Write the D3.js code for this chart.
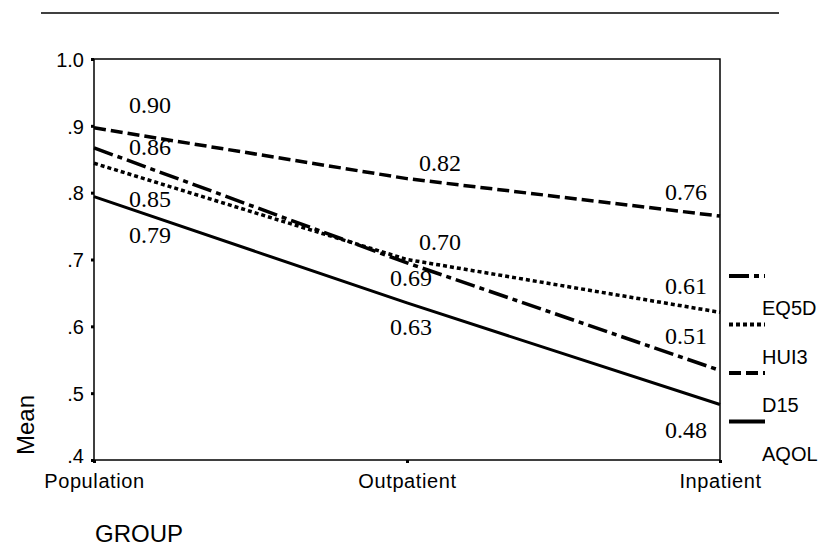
<!DOCTYPE html>
<html>
<head>
<meta charset="utf-8">
<script src="https://cdn.jsdelivr.net/npm/d3@7"></script>
<style>
  body { margin: 0; background: #fff; }
  text { fill: #000; }
</style>
</head>
<body>
<div id="chart"></div>
<script>
// categories and series means
const groups = ["Population", "Outpatient", "Inpatient"];
const seriesNames = ["EQ5D", "HUI3", "D15", "AQOL"];
const eq5d = [0.867, 0.695, 0.534];
const hui3 = [0.844, 0.700, 0.621];
const d15 = [0.897, 0.821, 0.765];
const aqol = [0.794, 0.635, 0.483];
const yTicks = [0.4, 0.5, 0.6, 0.7, 0.8, 0.9, 1.0];

// value labels typed on the chart (in group order)
const eq5dLabels = ["0.86", "0.69", "0.51"];
const hui3Labels = ["0.85", "0.70", "0.61"];
const d15Labels = ["0.90", "0.82", "0.76"];
const aqolLabels = ["0.79", "0.63", "0.48"];

const SANS = "Liberation Sans, Arial, sans-serif";
const SERIF = "'Liberation Serif', Tinos, 'Times New Roman', 'DejaVu Serif', serif";

let width = 825, height = 558;
let margin = {top: 59, right: 105, bottom: 98, left: 94};
let innerW = width - margin.left - margin.right;
let innerH = height - margin.top - margin.bottom;

let svg = d3.select("#chart").append("svg")
    .attr("width", width)
    .attr("height", height);

// rule across the top of the page
svg.append("line")
    .attr("x1", 41).attr("x2", 779)
    .attr("y1", 13).attr("y2", 13)
    .style("stroke", "#000")
    .style("stroke-width", 1.5);

let g = svg.append("g")
    .attr("transform", "translate(" + margin.left + "," + margin.top + ")");

let x = d3.scalePoint().domain(groups).range([0, innerW]);
let y = d3.scaleLinear().domain([0.4, 1.0]).range([innerH, 0]);

// line styles per series
const styles = {
    EQ5D: {dash: "20,5,5,5", width: 3.5},
    HUI3: {dash: "4,3", width: 3.5},
    D15: {dash: "12,5", width: 3.5},
    AQOL: {dash: null, width: 3}
};
const values = {EQ5D: eq5d, HUI3: hui3, D15: d15, AQOL: aqol};
const labels = {EQ5D: eq5dLabels, HUI3: hui3Labels, D15: d15Labels, AQOL: aqolLabels};

// frame
g.append("rect")
    .attr("width", innerW)
    .attr("height", innerH)
    .style("fill", "none")
    .style("stroke", "#000")
    .style("stroke-width", 1.5);

// y axis
let yAxis = g.append("g")
    .call(d3.axisLeft(y).tickValues(yTicks).tickSize(3)
        .tickFormat(d => d === 1 ? "1.0" : d3.format(".1f")(d).replace(/^0/, "")))
    .attr("font-family", SANS)
    .attr("font-size", 20);
yAxis.select(".domain").remove();
yAxis.selectAll(".tick line").style("stroke", "#000").style("stroke-width", 3);
yAxis.selectAll(".tick text")
    .attr("x", -10)
    .attr("dy", d => d === 0.4 ? "0.1em" : "0.36em");

// x axis
let xAxis = g.append("g")
    .attr("transform", "translate(0," + innerH + ")")
    .call(d3.axisBottom(x).tickSize(3))
    .attr("font-family", SANS)
    .attr("font-size", 20);
xAxis.select(".domain").remove();
xAxis.selectAll(".tick line").style("stroke", "#000").style("stroke-width", 3);
xAxis.selectAll(".tick text")
    .attr("y", 10)
    .attr("dy", "0.9em")
    .style("letter-spacing", "0.6px");

// axis titles
svg.append("text")
    .attr("transform", "translate(34,425) rotate(-90)")
    .attr("text-anchor", "middle")
    .attr("font-family", SANS)
    .attr("font-size", 24)
    .text("Mean");

svg.append("text")
    .attr("x", 95)
    .attr("y", 542)
    .attr("font-family", SANS)
    .attr("font-size", 24)
    .text("GROUP");

// lines, drawn back to front
let line = d3.line()
    .x((d, i) => x(groups[i]))
    .y(d => y(d));

["D15", "HUI3", "EQ5D", "AQOL"].forEach(function(name) {
    g.append("path")
        .datum(values[name])
        .attr("d", line)
        .style("fill", "none")
        .style("stroke", "#000")
        .style("stroke-width", styles[name].width)
        .style("stroke-dasharray", styles[name].dash);
});

// where each typed value label sits: data-space baseline and a pixel nudge
const labelSpots = {
    D15:  [{at: 0.919, dx: 56}, {at: 0.832, dx: 33}, {at: 0.789, dx: -34}],
    EQ5D: [{at: 0.856, dx: 56}, {at: 0.660, dx: 4},  {at: 0.573, dx: -34}],
    HUI3: [{at: 0.778, dx: 56}, {at: 0.714, dx: 33}, {at: 0.648, dx: -34}],
    AQOL: [{at: 0.725, dx: 56}, {at: 0.587, dx: 4},  {at: 0.433, dx: -34}]
};

seriesNames.forEach(function(name) {
    labels[name].forEach(function(txt, i) {
        let spot = labelSpots[name][i];
        g.append("text")
            .attr("x", x(groups[i]) + spot.dx)
            .attr("y", y(spot.at))
            .attr("text-anchor", "middle")
            .attr("font-family", SERIF)
            .attr("font-size", 24)
            .text(txt);
    });
});

// legend: symbols with the names set a little below each one
let legend = svg.append("g")
    .attr("transform", "translate(729,276)");

seriesNames.forEach(function(name, i) {
    let row = legend.append("g")
        .attr("transform", "translate(0," + (i * 48.5) + ")");
    row.append("line")
        .attr("x1", 0).attr("x2", 36)
        .style("stroke", "#000")
        .style("stroke-width", 4)
        .style("stroke-dasharray", styles[name].dash);
    row.append("text")
        .attr("x", 33)
        .attr("y", 39)
        .attr("font-family", SANS)
        .attr("font-size", 20)
        .text(name);
});
</script>
</body>
</html>
